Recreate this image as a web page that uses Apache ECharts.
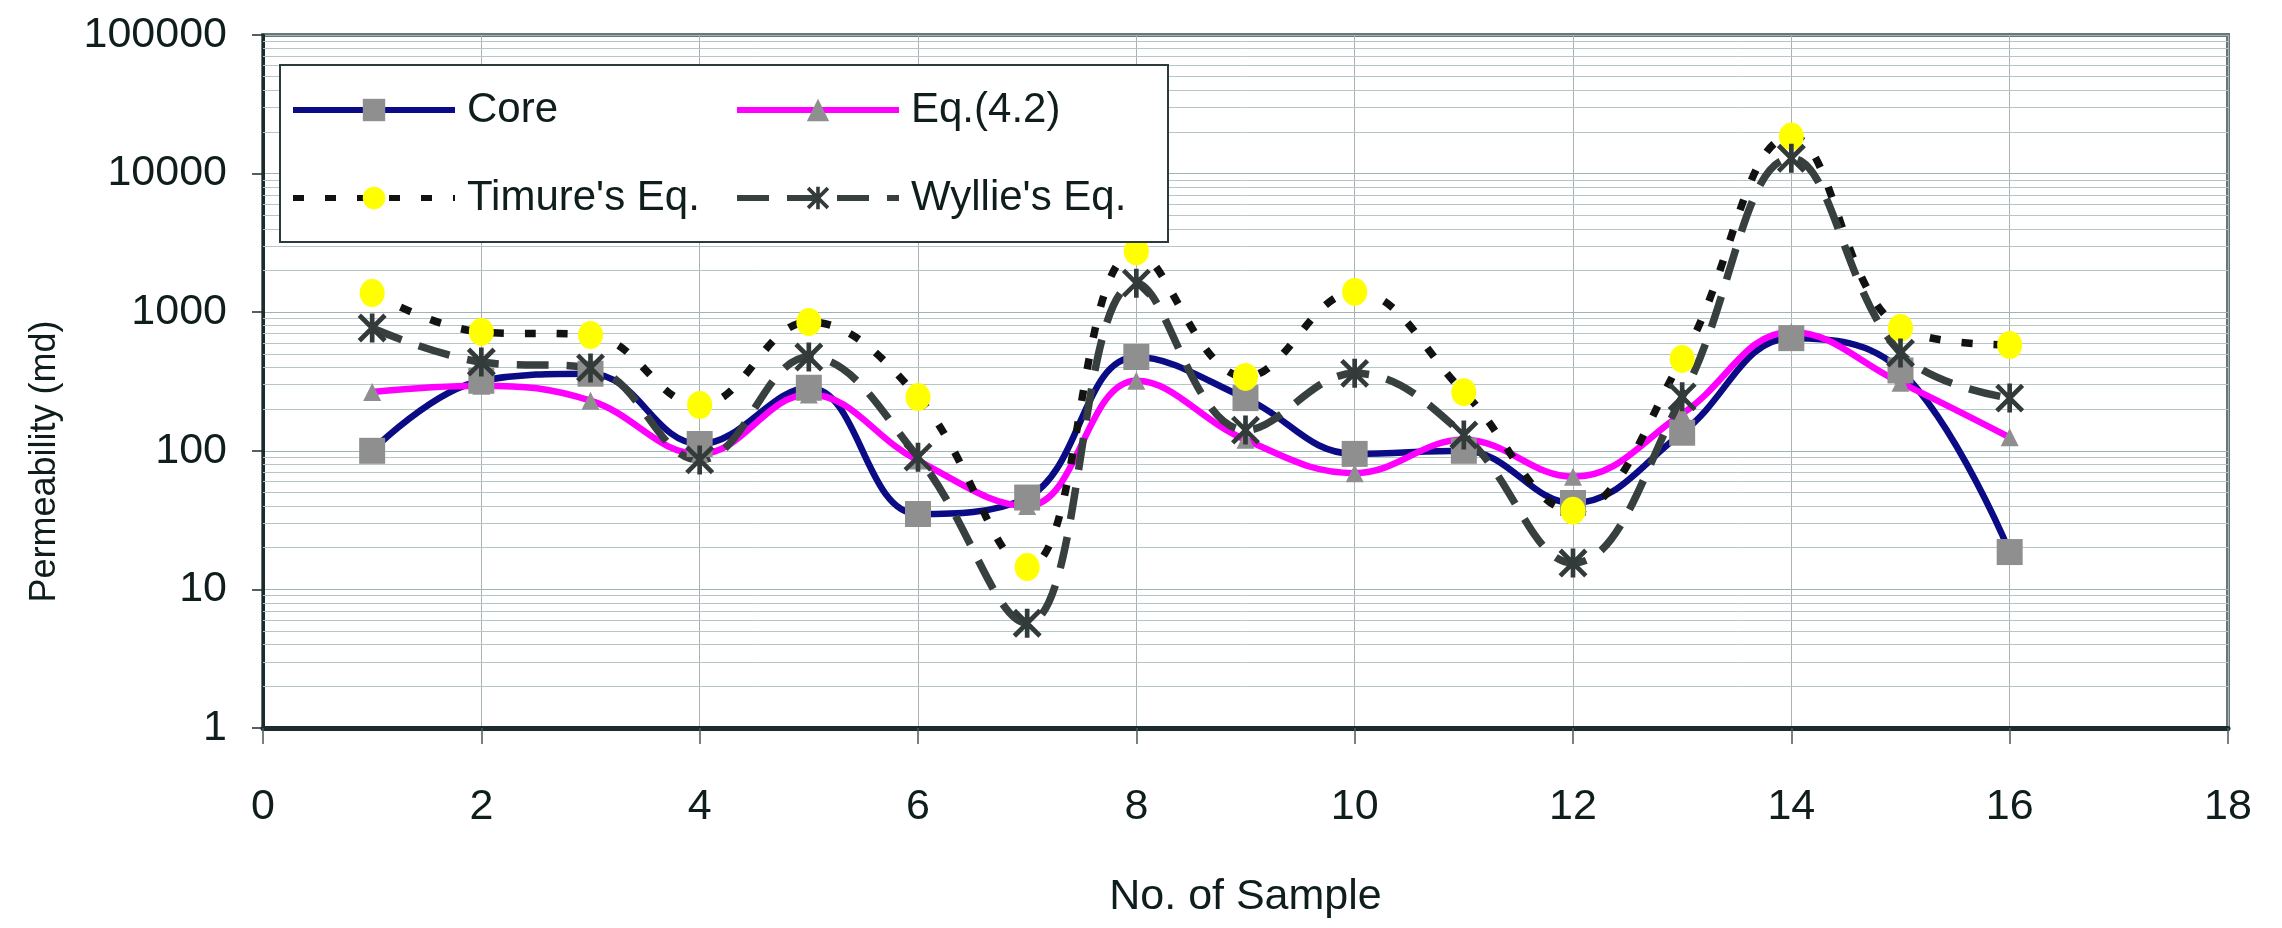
<!DOCTYPE html>
<html>
<head>
<meta charset="utf-8">
<script src="https://cdn.jsdelivr.net/npm/echarts@6/dist/echarts.min.js"></script>
<style>
html, body { margin: 0; padding: 0; background: #fff; }
#chart { width: 2282px; height: 928px; }
</style>
</head>
<body>
<div id="chart"></div>
<script>
// sample numbers on the x axis
const samples = [1, 2, 3, 4, 5, 6, 7, 8, 9, 10, 11, 12, 13, 14, 15, 16];

// permeability (md)
const core   = [100, 320, 360, 112, 285, 35, 46, 475, 240, 95, 100, 42, 135, 650, 380, 18.6];
const eq42   = [266, 295, 230, 95, 255, 85, 40, 320, 120, 69, 120, 65, 185, 720, 310, 125];
const timure = [1375, 720, 684, 214, 850, 244, 14.5, 2750, 341, 1400, 265, 37, 460, 18500, 770, 580];
const wyllie = [769, 437, 396, 86, 475, 90, 5.7, 1620, 141, 362, 130, 15.5, 245, 12900, 507, 240];

const seriesNames = ['Core', 'Eq.(4.2)', "Timure's Eq.", "Wyllie's Eq."];

const xTickLabels = ['0', '2', '4', '6', '8', '10', '12', '14', '16', '18'];
const yTickLabels = ['1', '10', '100', '1000', '10000', '100000'];

// log minor grid lines (2..9 in every decade)
const minorGridValues = [
  2, 3, 4, 5, 6, 7, 8, 9,
  20, 30, 40, 50, 60, 70, 80, 90,
  200, 300, 400, 500, 600, 700, 800, 900,
  2000, 3000, 4000, 5000, 6000, 7000, 8000, 9000,
  20000, 30000, 40000, 50000, 60000, 70000, 80000, 90000
];

const font = '"Liberation Sans", Arial, sans-serif';
const ink = '#0f1d1d';

// asterisk marker: an X with a vertical bar through it
const starPath = 'path://M42 0L58 0L58 100L42 100Z M11.7 0.3L99.7 88.3L88.3 99.7L0.3 11.7Z M88.3 0.3L99.7 11.7L11.7 99.7L0.3 88.3Z';

const pairs = vals => samples.map((s, i) => [s, vals[i]]);

const chart = echarts.init(document.getElementById('chart'));

const option = {
  backgroundColor: '#ffffff',
  animation: false,
  textStyle: { fontFamily: font },
  grid: {
    left: 263, right: 54, top: 35, bottom: 200,
    show: true, borderColor: '#687878', borderWidth: 4
  },
  legend: {
    data: seriesNames,
    left: 280, top: 65, width: 870,
    itemWidth: 162, itemHeight: 28, itemGap: 24,
    padding: [13, 14, 12, 10],
    backgroundColor: '#ffffff',
    borderColor: '#2b3b3b', borderWidth: 2,
    selectedMode: false,
    lineStyle: { width: 6 },
    textStyle: {
      fontSize: 42, color: ink, fontFamily: font,
      width: 243, lineHeight: 64, padding: [0, 0, 0, 7]
    }
  },
  xAxis: {
    type: 'value', min: 0, max: 18, interval: 2,
    name: 'No. of Sample', nameLocation: 'middle', nameGap: 148,
    nameTextStyle: { fontSize: 43, color: ink, fontFamily: font },
    axisLine: { show: true, onZero: false, lineStyle: { color: '#1c2c2c', width: 5 } },
    axisTick: { show: true, length: 16, lineStyle: { color: '#4a5858', width: 1.5 } },
    axisLabel: {
      fontSize: 43, color: ink, margin: 58,
      formatter: v => xTickLabels[Math.round(v / 2)]
    },
    splitLine: { show: true, lineStyle: { color: '#a9b3b3', width: 1 } }
  },
  yAxis: {
    type: 'log', logBase: 10, min: 1, max: 100000,
    name: 'Permeability (md)', nameLocation: 'middle', nameGap: 200, nameRotate: 90,
    nameTextStyle: { fontSize: 36, color: ink, fontFamily: font, padding: [0, 160, 0, 0] },
    axisLine: { show: true, lineStyle: { color: '#1c2c2c', width: 3 } },
    axisTick: { show: true, length: 11, lineStyle: { color: '#1c2c2c', width: 1.5 } },
    axisLabel: {
      fontSize: 43, color: ink, margin: 36,
      formatter: v => yTickLabels[Math.round(Math.log10(v))]
    },
    splitLine: { show: true, lineStyle: { color: '#9fb3b3', width: 1.2 } }
  },
  series: [
    {
      name: 'Core', type: 'line', smooth: 0.4,
      data: pairs(core),
      symbol: 'rect', symbolSize: 26,
      lineStyle: { color: '#0b0b85', width: 6.5 },
      itemStyle: { color: '#8f8f8f' },
      markLine: {
        silent: true, z: 1, symbol: 'none',
        label: { show: false },
        lineStyle: { type: 'solid', color: '#b6c6c6', width: 1 },
        data: minorGridValues.map(v => ({ yAxis: v }))
      }
    },
    {
      name: 'Eq.(4.2)', type: 'line', smooth: 0.4,
      data: pairs(eq42),
      symbol: 'triangle', symbolSize: 18,
      lineStyle: { color: '#ff00ff', width: 6.5 },
      itemStyle: { color: '#8f8f8f' }
    },
    {
      name: "Timure's Eq.", type: 'line', smooth: 0.4,
      data: pairs(timure),
      symbol: 'circle', symbolSize: [25, 28],
      lineStyle: { color: '#121212', width: 7.5, type: [11, 21] },
      itemStyle: { color: '#ffff00' }
    },
    {
      name: "Wyllie's Eq.", type: 'line', smooth: 0.4,
      data: pairs(wyllie),
      symbol: starPath, symbolSize: 29,
      lineStyle: { color: '#383f3f', width: 7.5, type: [32, 18] },
      itemStyle: { color: '#333a3a' }
    }
  ]
};

chart.setOption(option);
window.addEventListener('resize', () => chart.resize());
</script>
</body>
</html>
